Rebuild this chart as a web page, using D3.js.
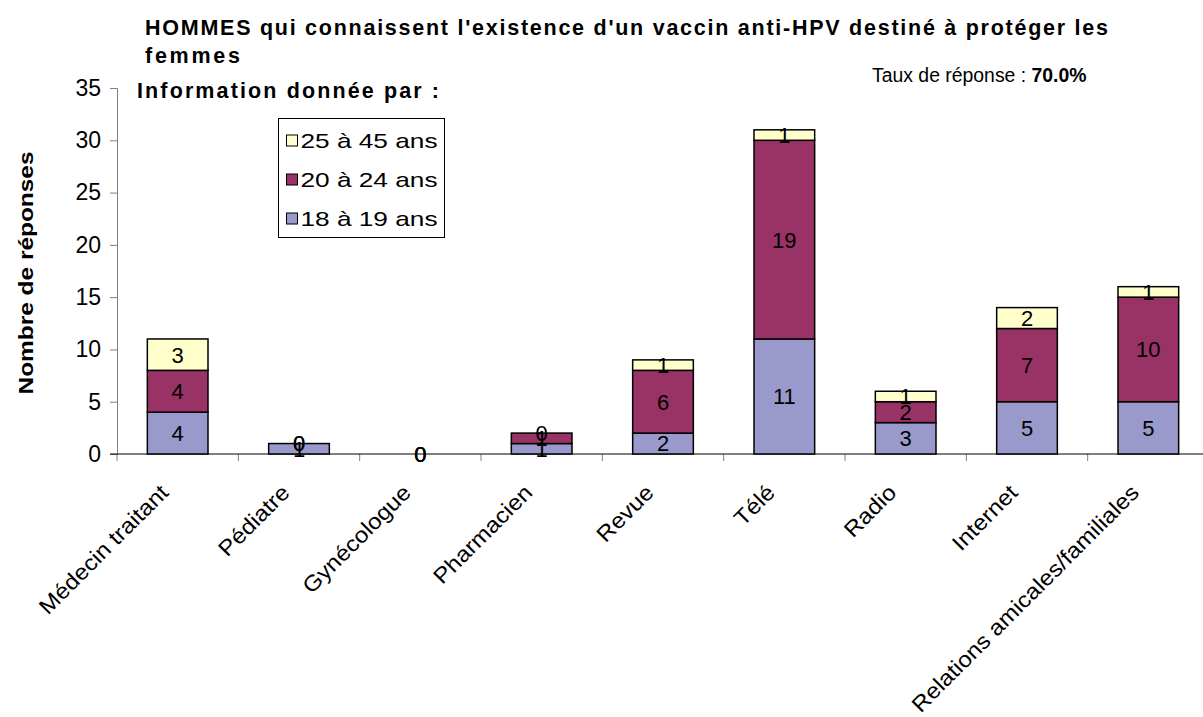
<!DOCTYPE html>
<html>
<head>
<meta charset="utf-8">
<script src="https://cdn.jsdelivr.net/npm/d3@7/dist/d3.min.js"></script>
<style>
  html, body { margin: 0; padding: 0; background: #fff; }
  svg { display: block; font-family: Arial, "Liberation Sans", sans-serif; }
</style>
</head>
<body>
<svg id="chart" width="1203" height="717"></svg>
<script>
// Sources of information, one stacked bar each
const categories = ["Médecin traitant", "Pédiatre", "Gynécologue", "Pharmacien", "Revue", "Télé", "Radio", "Internet", "Relations amicales/familiales"];
// Age groups, bottom to top of each stack
const seriesNames = ["18 à 19 ans", "20 à 24 ans", "25 à 45 ans"];
const age18to19 = [4, 1, 0, 1, 2, 11, 3, 5, 5];
const age20to24 = [4, 0, 0, 1, 6, 19, 2, 7, 10];
const age25to45 = [3, 0, 0, 0, 1, 1, 1, 2, 1];
const yTicks = [0, 5, 10, 15, 20, 25, 30, 35];
const seriesColors = ["#9999cc", "#993366", "#ffffcc"];

const svg = d3.select("#chart");

// Widen a text run horizontally by a factor, keeping its anchor
function widen(sel, factor) {
  sel.each(function () {
    const w = this.getComputedTextLength();
    d3.select(this).attr("textLength", w * factor).attr("lengthAdjust", "spacingAndGlyphs");
  });
}

const rows = categories.map((c, i) => ({
  cat: c,
  "18 à 19 ans": age18to19[i],
  "20 à 24 ans": age20to24[i],
  "25 à 45 ans": age25to45[i]
}));
const stacked = d3.stack().keys(seriesNames)(rows);

const x = d3.scaleBand().domain(categories).range([117, 1209]).paddingInner(0.5).paddingOuter(0.25);
const y = d3.scaleLinear().domain([0, 35]).range([454, 88]);
const color = d3.scaleOrdinal().domain(seriesNames).range(seriesColors);

// Y axis
const yAxis = svg.append("g").attr("transform", "translate(117,0)")
  .call(d3.axisLeft(y).tickValues(yTicks).tickSize(7).tickPadding(9));
yAxis.select(".domain").attr("stroke", "#808080");
yAxis.selectAll(".tick line").attr("stroke", "#808080");
yAxis.selectAll(".tick text").attr("font-size", 23).attr("fill", "#000")
  .attr("font-family", "Arial, 'Liberation Sans', sans-serif");

// X axis: baseline and category separators
const step = x.step();
const sepX = d3.range(categories.length + 1).map(i => 117 + i * step);
svg.append("g").selectAll("line").data(sepX).join("line")
  .attr("x1", d => d).attr("x2", d => d)
  .attr("y1", y(0)).attr("y2", y(0) + 7)
  .attr("stroke", "#808080");
svg.append("line").attr("x1", 110).attr("x2", 1209)
  .attr("y1", y(0)).attr("y2", y(0)).attr("stroke", "#000");

// Bars
const layers = svg.append("g").selectAll("g").data(stacked).join("g")
  .attr("fill", d => color(d.key));
layers.selectAll("rect").data(d => d).join("rect")
  .attr("x", d => x(d.data.cat))
  .attr("width", x.bandwidth())
  .attr("y", d => y(d[1]))
  .attr("height", d => y(d[0]) - y(d[1]))
  .attr("stroke", d => (d[1] - d[0]) > 0 ? "#000" : "none")
  .attr("stroke-width", 1.5);

// Value labels at the middle of each segment
const labels = svg.append("g");
stacked.forEach(layer => {
  layer.forEach(d => {
    labels.append("text")
      .attr("x", x(d.data.cat) + x.bandwidth() / 2)
      .attr("y", y((d[0] + d[1]) / 2))
      .attr("dy", "0.36em")
      .attr("text-anchor", "middle")
      .attr("font-size", 22)
      .attr("fill", "#000")
      .text(d[1] - d[0]);
  });
});

// Category labels, rotated
const catLabels = svg.append("g").selectAll("text").data(categories).join("text")
  .attr("transform", d => `translate(${x(d) + x.bandwidth() / 2 - 8},${y(0) + 40}) rotate(-45)`)
  .attr("text-anchor", "end")
  .attr("font-size", 22)
  .attr("fill", "#000")
  .text(d => d);
widen(catLabels, 1.1);

// Y axis title
const yTitle = svg.append("text")
  .attr("transform", "translate(33,273) rotate(-90)")
  .attr("text-anchor", "middle")
  .attr("font-size", 20)
  .attr("font-weight", "bold")
  .text("Nombre de réponses");
yTitle.attr("textLength", 243).attr("lengthAdjust", "spacingAndGlyphs");

// Titles
svg.append("text").attr("x", 145).attr("y", 35).attr("font-size", 21.5).attr("font-weight", "bold")
  .attr("textLength", 963).attr("lengthAdjust", "spacing")
  .text("HOMMES qui connaissent l'existence d'un vaccin anti-HPV destiné à protéger les");
svg.append("text").attr("x", 145).attr("y", 63).attr("font-size", 21.5).attr("font-weight", "bold")
  .attr("textLength", 95).attr("lengthAdjust", "spacing")
  .text("femmes");
svg.append("text").attr("x", 137).attr("y", 98).attr("font-size", 21.5).attr("font-weight", "bold")
  .attr("textLength", 302).attr("lengthAdjust", "spacing")
  .text("Information donnée par :");

const taux = svg.append("text").attr("x", 872).attr("y", 82).attr("font-size", 19.4);
taux.append("tspan").text("Taux de réponse : ");
taux.append("tspan").attr("font-weight", "bold").text("70.0%");

// Legend, top series first
const legend = svg.append("g");
legend.append("rect").attr("x", 278.5).attr("y", 118.5).attr("width", 166).attr("height", 119)
  .attr("fill", "#fff").attr("stroke", "#000");
const legendItems = seriesNames.slice().reverse();
legendItems.forEach((name, i) => {
  const cy = 140.5 + i * 39;
  legend.append("rect").attr("x", 286.5).attr("y", cy - 5.5).attr("width", 11).attr("height", 11)
    .attr("fill", color(name)).attr("stroke", "#000");
  const t = legend.append("text").attr("x", 300.5).attr("y", cy).attr("dy", "0.36em")
    .attr("font-size", 21).text(name);
  t.attr("textLength", 137).attr("lengthAdjust", "spacingAndGlyphs");
});
</script>
</body>
</html>
